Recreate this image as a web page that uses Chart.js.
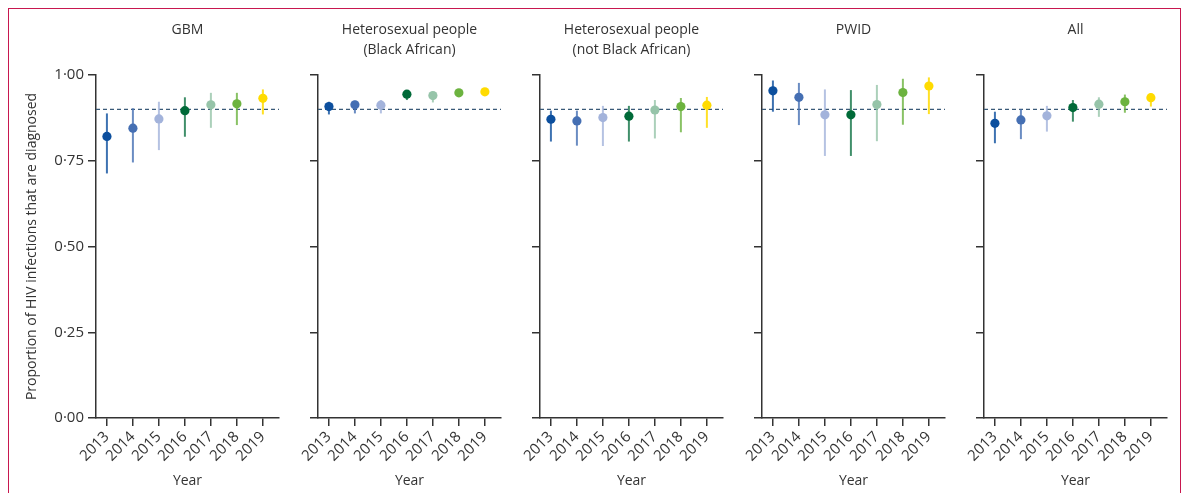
<!DOCTYPE html>
<html>
<head>
<meta charset="utf-8">
<script src="https://cdn.jsdelivr.net/npm/chart.js@4.4.1/dist/chart.umd.min.js"></script>
<style>
    body { margin: 0; background: #fff; width: 1184px; height: 493px; overflow: hidden; position: relative; }
    #frame { position: absolute; left: 8px; top: 8px; width: 1173px; height: 520px; border: 1.5px solid #c8174f; box-sizing: border-box; }
    canvas.panel { position: absolute; top: 0; }
</style>
</head>
<body>
<div id="frame"></div>
<div id="wrap"></div>
<script>
// Datos
var years = [2013, 2014, 2015, 2016, 2017, 2018, 2019];
var yearColours = ['#0c4f9e', '#456fb3', '#a3b3db', '#006a38', '#96c4a9', '#6cb33f', '#ffdb00'];
var barColours = ['rgba(12,79,158,0.8)', 'rgba(69,111,179,0.8)', 'rgba(163,179,219,0.8)', 'rgba(0,106,56,0.75)',
                  'rgba(150,196,169,0.8)', 'rgba(108,179,63,0.8)', 'rgba(255,219,0,0.85)'];
var yTicks = [0, 0.25, 0.5, 0.75, 1];
var target = 0.90;

var groupTitles = [
    ['GBM', ''],
    ['Heterosexual people', '(Black African)'],
    ['Heterosexual people', '(not Black African)'],
    ['PWID', ''],
    ['All', '']
];

var gbmEst  = [0.821, 0.845, 0.872, 0.896, 0.913, 0.916, 0.932];
var gbmLow  = [0.713, 0.745, 0.781, 0.820, 0.846, 0.854, 0.885];
var gbmHigh = [0.888, 0.903, 0.922, 0.935, 0.948, 0.948, 0.958];

var baEst  = [0.908, 0.913, 0.912, 0.944, 0.940, 0.948, 0.951];
var baLow  = [0.885, 0.888, 0.888, 0.927, 0.920, 0.937, 0.940];
var baHigh = [0.922, 0.925, 0.927, 0.954, 0.949, 0.958, 0.961];

var nbaEst  = [0.871, 0.866, 0.876, 0.880, 0.898, 0.908, 0.912];
var nbaLow  = [0.806, 0.794, 0.793, 0.806, 0.815, 0.833, 0.846];
var nbaHigh = [0.896, 0.896, 0.910, 0.910, 0.927, 0.933, 0.936];

var pwidEst  = [0.954, 0.935, 0.884, 0.884, 0.914, 0.949, 0.968];
var pwidLow  = [0.893, 0.854, 0.764, 0.764, 0.807, 0.855, 0.886];
var pwidHigh = [0.984, 0.977, 0.958, 0.956, 0.971, 0.989, 0.993];

var allEst  = [0.859, 0.869, 0.881, 0.905, 0.915, 0.922, 0.934];
var allLow  = [0.801, 0.813, 0.835, 0.864, 0.878, 0.890, 0.908];
var allHigh = [0.893, 0.900, 0.910, 0.927, 0.935, 0.943, 0.946];

var panels = [
    [gbmEst, gbmLow, gbmHigh],
    [baEst, baLow, baHigh],
    [nbaEst, nbaLow, nbaHigh],
    [pwidEst, pwidLow, pwidHigh],
    [allEst, allLow, allHigh]
];

Chart.defaults.font.family = '"Open Sans", sans-serif';
Chart.defaults.font.size = 14;
Chart.defaults.color = '#333';

var xMin = 2012.58, xMax = 2019.62;
var yAxisW = 76, areaW = 183, rightPad = 12;

panels.forEach(function (p, k) {
    var est = p[0], low = p[1], high = p[2];
    var axisX = 96 + k * 222;
    var canvas = document.createElement('canvas');
    canvas.className = 'panel';
    canvas.width = yAxisW + areaW + rightPad;
    canvas.height = 493;
    canvas.style.left = (axisX - yAxisW) + 'px';
    document.getElementById('wrap').appendChild(canvas);

    var datasets = [];
    // puntos
    datasets.push({
        data: years.map(function (y, i) { return { x: y, y: est[i] }; }),
        showLine: false,
        pointRadius: 4.6,
        pointBorderWidth: 0,
        pointBackgroundColor: yearColours
    });
    // intervalos
    years.forEach(function (y, i) {
        datasets.push({
            data: [{ x: y, y: low[i] }, { x: y, y: high[i] }],
            borderColor: barColours[i],
            borderWidth: 2,
            pointRadius: 0
        });
    });
    // línea objetivo
    datasets.push({
        data: [{ x: xMin, y: target }, { x: xMax, y: target }],
        borderColor: '#3a5a78',
        borderWidth: 1.2,
        borderDash: [4, 3],
        pointRadius: 0
    });

    new Chart(canvas.getContext('2d'), {
        type: 'line',
        data: { datasets: datasets },
        options: {
            responsive: false,
            animation: false,
            events: [],
            layout: { padding: { left: 0, right: rightPad, top: 0, bottom: 0 } },
            plugins: {
                legend: { display: false },
                tooltip: { enabled: false },
                title: {
                    display: true,
                    text: groupTitles[k],
                    fullSize: false,
                    color: '#333',
                    font: { size: 14, weight: 'normal', lineHeight: '20px' },
                    padding: { top: 20, bottom: 15 }
                }
            },
            scales: {
                x: {
                    type: 'linear',
                    min: xMin,
                    max: xMax,
                    afterBuildTicks: function (s) { s.ticks = years.map(function (v) { return { value: v }; }); },
                    afterFit: function (s) { s.height = 75; s.paddingLeft = 0; s.paddingRight = 0; },
                    ticks: { minRotation: 45, maxRotation: 45, color: '#333', padding: 2, font: { size: 15 },
                             callback: function (v) { return String(v); } },
                    grid: { drawOnChartArea: false, drawTicks: true, tickLength: 8, color: '#333', lineWidth: 1.5 },
                    border: { display: true, color: '#333', width: 1.5 },
                    title: { display: true, text: 'Year', color: '#333', font: { size: 14 } }
                },
                y: {
                    min: 0,
                    max: 1,
                    afterBuildTicks: function (s) { s.ticks = yTicks.map(function (v) { return { value: v }; }); },
                    afterFit: function (s) { s.width = yAxisW; s.paddingTop = 0; s.paddingBottom = 0; },
                    ticks: { display: k === 0, color: '#333', padding: 4, font: { size: 15 },
                             callback: function (v) { return v.toFixed(2).replace('.', '\u00b7'); } },
                    grid: { drawOnChartArea: false, drawTicks: true, tickLength: 8, color: '#333', lineWidth: 1.5 },
                    border: { display: true, color: '#333', width: 1.5 },
                    title: { display: k === 0, text: 'Proportion of HIV infections that are diagnosed',
                             color: '#333', font: { size: 14 } }
                }
            }
        }
    });
});
</script>
</body>
</html>
